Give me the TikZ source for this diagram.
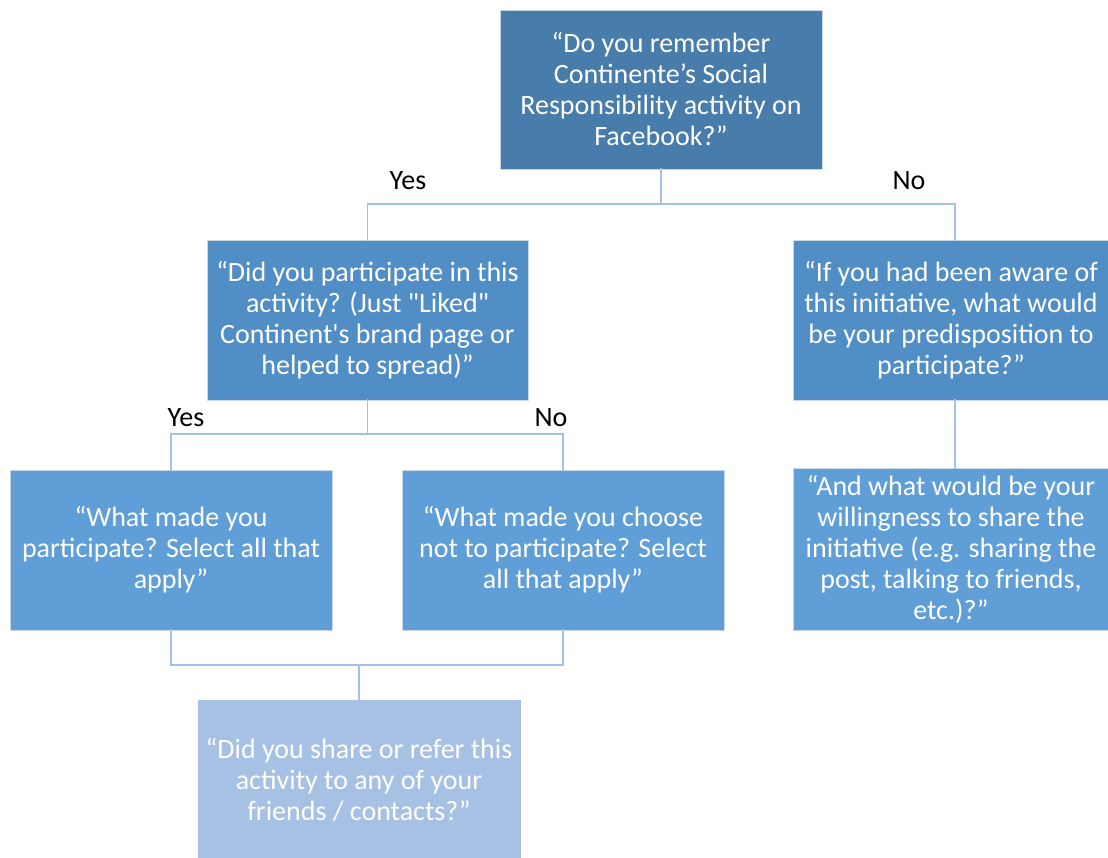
\documentclass[tikz,border=0pt]{standalone}
\usepackage{fontspec}
\setmainfont{Carlito}[Ligatures=TeXOff]
\definecolor{cA}{RGB}{71,124,171}
\definecolor{cB}{RGB}{81,142,198}
\definecolor{cC}{RGB}{95,158,214}
\definecolor{cD}{RGB}{166,193,228}
\definecolor{lineC}{RGB}{165,194,228}
\begin{document}
\begin{tikzpicture}[x=1pt,y=-1pt,
  box/.style={draw=white!70!cA, line width=0.8pt, text=white, align=center,
    inner sep=0pt, font=\fontsize{28}{31}\selectfont},
  lbl/.style={font=\fontsize{28}{31}\selectfont, text=black, inner sep=0pt},
  conn/.style={draw=lineC, line width=1.3pt}]
\useasboundingbox (0,0) rectangle (1108,857);
\node[box, fill=cA, minimum width=322pt, minimum height=159pt] (q1) at (661,89.5)
  {“Do you remember\\Continente’s Social\\Responsibility  activity on\\Facebook?”};
\node[box, fill=cB, minimum width=321pt, minimum height=160pt] (q2) at (367.5,320)
  {“Did you participate in this\\activity? (Just "Liked"\\Continent's brand page or\\helped to spread)”};
\node[box, fill=cB, minimum width=316pt, minimum height=160pt] (q3) at (951,320)
  {“If you had been aware of\\this initiative, what would\\be your predisposition to\\participate?”};
\node[box, fill=cC, minimum width=322pt, minimum height=160pt] (q4) at (171,550)
  {“What made you\\participate? Select all that\\apply”};
\node[box, fill=cC, minimum width=322pt, minimum height=160pt] (q5) at (563,550)
  {“What made you choose\\not to participate? Select\\all that apply”};
\node[box, fill=cC, minimum width=316pt, minimum height=162pt] (q6) at (951,549)
  {“And what would be your\\willingness to share the\\initiative (e.g. sharing the\\post, talking to friends,\\etc.)?”};
\node[box, fill=cD, draw=cD, minimum width=322pt, minimum height=160pt] (q7) at (359,780)
  {“Did you share or refer this\\activity to any of your\\friends / contacts?”};
\coordinate (j1) at (661,204);
\coordinate (j2) at (367.5,434);
\coordinate (j3) at (359,665);
\draw[conn] ([yshift=1pt]q1.south) -- (j1);
\draw[conn] (j1) -| ([yshift=-1pt]q2.north);
\draw[conn] (j1) -| ([xshift=4pt,yshift=-1pt]q3.north);
\draw[conn] ([yshift=1pt]q2.south) -- (j2);
\draw[conn] (j2) -| ([yshift=-1pt]q4.north);
\draw[conn] (j2) -| ([yshift=-1pt]q5.north);
\draw[conn] ([xshift=4pt,yshift=1pt]q3.south) -- ([xshift=4pt,yshift=-1pt]q6.north);
\draw[conn] ([yshift=1pt]q4.south) |- (j3);
\draw[conn] ([yshift=1pt]q5.south) |- (j3);
\draw[conn] (j3) -- ([yshift=-1pt]q7.north);
\node[lbl] (y1) at (408,181) {Yes};
\node[lbl] (n1) at (909,181) {No};
\node[lbl] (y2) at (186,418) {Yes};
\node[lbl] (n2) at (551,418) {No};
\end{tikzpicture}
\end{document}
